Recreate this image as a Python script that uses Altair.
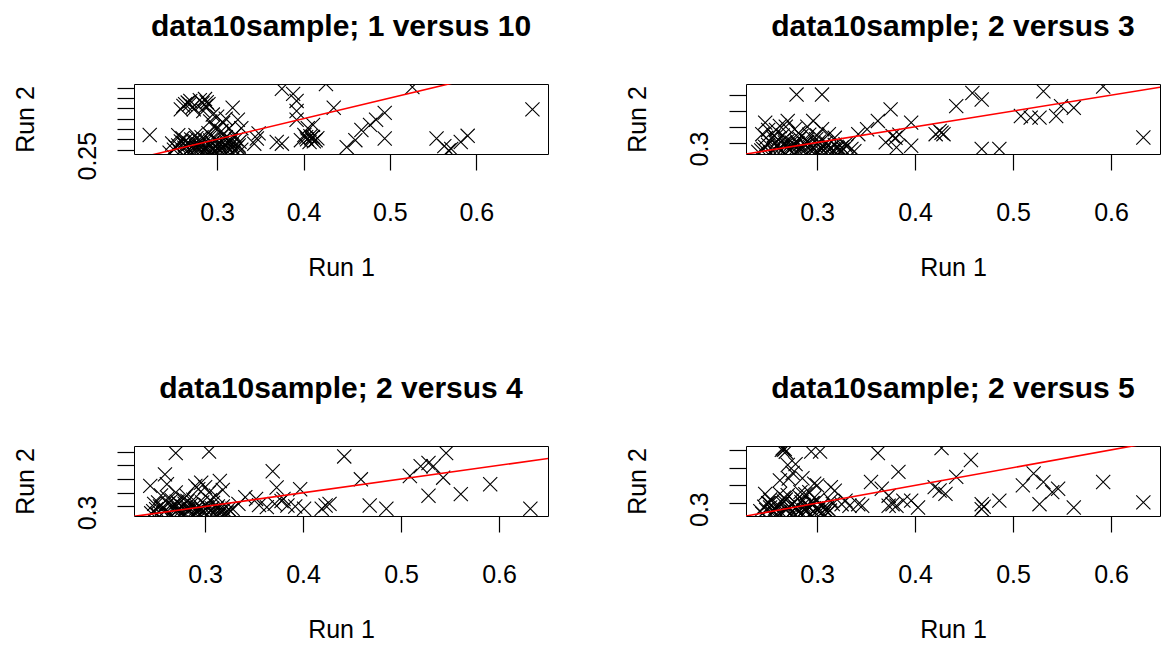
import altair as alt
import pandas as pd

# ---------------- data ----------------
titles = ["data10sample; 1 versus 10", "data10sample; 2 versus 3",
          "data10sample; 2 versus 4", "data10sample; 2 versus 5"]
x_ticks = [0.3, 0.4, 0.5, 0.6]
ref_line = [0.15, 0.75]  # identity line y = x

p1_x = [0.222, 0.665, 0.375, 0.388, 0.392, 0.426, 0.526, 0.435, 0.494, 0.484, 0.477, 0.467, 0.460, 0.450,
        0.494, 0.554, 0.563, 0.571, 0.582, 0.590, 0.568,
        0.392, 0.405, 0.401, 0.411, 0.407, 0.414, 0.397, 0.411, 0.392, 0.409, 0.404,
        0.408, 0.412, 0.403, 0.416,
        0.369, 0.375, 0.346, 0.348, 0.343,
        0.263, 0.269, 0.258, 0.273, 0.286, 0.290, 0.284, 0.318, 0.324, 0.307, 0.299, 0.314, 0.292, 0.328,
        0.320, 0.307, 0.266, 0.288,
        0.261, 0.268, 0.272, 0.280, 0.283, 0.287, 0.295, 0.300, 0.310, 0.305, 0.296]
p1_y = [0.321, 0.445, 0.545, 0.520, 0.486, 0.568, 0.553, 0.453, 0.428, 0.395, 0.370, 0.345, 0.296, 0.262,
        0.304, 0.304, 0.267, 0.254, 0.287, 0.317, 0.246,
        0.395, 0.354, 0.321, 0.312, 0.287, 0.296, 0.296, 0.370, 0.437, 0.305, 0.300,
        0.315, 0.290, 0.310, 0.305,
        0.287, 0.279, 0.304, 0.329, 0.279,
        0.470, 0.486, 0.445, 0.445, 0.495, 0.470, 0.437, 0.453, 0.395, 0.379, 0.354, 0.354, 0.387, 0.354,
        0.321, 0.321, 0.478, 0.480,
        0.462, 0.470, 0.458, 0.490, 0.475, 0.462, 0.420, 0.410, 0.400, 0.340, 0.360]
p1_dense_x = [0.245, 0.250, 0.255, 0.258, 0.262, 0.265, 0.268, 0.270, 0.272, 0.275, 0.278, 0.280, 0.282,
              0.285, 0.288, 0.290, 0.292, 0.295, 0.298, 0.300, 0.302, 0.305, 0.308, 0.310, 0.312, 0.315,
              0.318, 0.320, 0.322, 0.325, 0.328, 0.260, 0.275, 0.290, 0.255, 0.285, 0.270, 0.296, 0.310,
              0.248, 0.252, 0.257, 0.261, 0.264, 0.267, 0.271, 0.274, 0.277, 0.279, 0.283, 0.286, 0.289,
              0.291, 0.294, 0.297, 0.299, 0.303, 0.306, 0.309, 0.313, 0.316, 0.319, 0.323, 0.326, 0.263,
              0.281, 0.301, 0.317, 0.276, 0.293]
p1_dense_y = [0.235, 0.250, 0.270, 0.290, 0.260, 0.240, 0.280, 0.300, 0.255, 0.270, 0.245, 0.290, 0.310,
              0.260, 0.235, 0.275, 0.295, 0.250, 0.265, 0.240, 0.285, 0.255, 0.300, 0.270, 0.240, 0.285,
              0.260, 0.245, 0.300, 0.270, 0.250, 0.305, 0.320, 0.330, 0.320, 0.245, 0.262, 0.232, 0.310,
              0.280, 0.262, 0.238, 0.283, 0.295, 0.250, 0.236, 0.292, 0.258, 0.275, 0.240, 0.300, 0.252,
              0.238, 0.283, 0.246, 0.300, 0.268, 0.238, 0.278, 0.254, 0.296, 0.233, 0.262, 0.288, 0.272,
              0.265, 0.258, 0.274, 0.306, 0.316]

p2_x = [0.279, 0.305, 0.4585, 0.468, 0.442, 0.531, 0.592, 0.375, 0.362, 0.396, 0.396, 0.377, 0.370, 0.381,
        0.342, 0.351, 0.329, 0.325, 0.425, 0.429, 0.421, 0.427, 0.468, 0.486, 0.508, 0.518, 0.527, 0.544,
        0.549, 0.562, 0.633, 0.380, 0.384,
        0.247, 0.270, 0.296, 0.244, 0.262, 0.277, 0.305, 0.312, 0.255, 0.284, 0.299, 0.268, 0.290, 0.250,
        0.258, 0.281, 0.292, 0.265, 0.318, 0.300]
p2_y = [0.604, 0.604, 0.614, 0.573, 0.531, 0.625, 0.655, 0.510, 0.437, 0.426, 0.280, 0.342, 0.301, 0.269,
        0.353, 0.384, 0.290, 0.269, 0.374, 0.353, 0.353, 0.362, 0.259, 0.259, 0.468, 0.458, 0.458, 0.468,
        0.531, 0.520, 0.332, 0.330, 0.350,
        0.426, 0.437, 0.437, 0.353, 0.405, 0.384, 0.384, 0.353, 0.332, 0.342, 0.321, 0.400, 0.400, 0.380,
        0.380, 0.360, 0.350, 0.345, 0.330, 0.345]
p2_dense_x = [0.240, 0.245, 0.250, 0.255, 0.258, 0.262, 0.265, 0.268, 0.270, 0.272, 0.275, 0.278, 0.280,
              0.283, 0.286, 0.288, 0.290, 0.293, 0.296, 0.298, 0.300, 0.303, 0.306, 0.309, 0.312, 0.315,
              0.318, 0.321, 0.325, 0.330, 0.335, 0.338, 0.260, 0.282, 0.248, 0.274,
              0.243, 0.247, 0.252, 0.256, 0.259, 0.263, 0.267, 0.271, 0.274, 0.277, 0.281, 0.284, 0.287,
              0.291, 0.294, 0.297, 0.301, 0.304, 0.307, 0.311, 0.314, 0.317, 0.320, 0.323, 0.327, 0.266,
              0.279, 0.289, 0.302, 0.256]
p2_dense_y = [0.240, 0.260, 0.285, 0.245, 0.300, 0.265, 0.240, 0.285, 0.310, 0.255, 0.270, 0.240, 0.295,
              0.260, 0.245, 0.280, 0.305, 0.255, 0.270, 0.240, 0.290, 0.250, 0.275, 0.300, 0.260, 0.240,
              0.285, 0.265, 0.250, 0.275, 0.260, 0.245, 0.320, 0.325, 0.330, 0.300,
              0.250, 0.272, 0.238, 0.262, 0.280, 0.247, 0.300, 0.262, 0.238, 0.288, 0.250, 0.270, 0.292,
              0.240, 0.282, 0.258, 0.236, 0.266, 0.250, 0.282, 0.262, 0.250, 0.272, 0.240, 0.258, 0.320,
              0.310, 0.318, 0.305, 0.345]

p3_x = [0.270, 0.304, 0.442, 0.369, 0.373, 0.397, 0.380, 0.371, 0.384, 0.363, 0.401, 0.423, 0.427, 0.419,
        0.459, 0.468, 0.485, 0.509, 0.520, 0.528, 0.533, 0.546, 0.543, 0.528, 0.561, 0.591, 0.632,
        0.341, 0.352, 0.334, 0.328, 0.378, 0.392, 0.355,
        0.244, 0.259, 0.261, 0.296, 0.315, 0.293, 0.311, 0.270, 0.281, 0.304, 0.248, 0.290, 0.300, 0.255,
        0.318]
p3_y = [0.689, 0.700, 0.665, 0.557, 0.438, 0.426, 0.355, 0.319, 0.307, 0.295, 0.283, 0.307, 0.319, 0.283,
        0.498, 0.307, 0.283, 0.522, 0.593, 0.617, 0.593, 0.689, 0.510, 0.378, 0.390, 0.462, 0.283,
        0.367, 0.355, 0.319, 0.283, 0.340, 0.300, 0.310,
        0.450, 0.534, 0.462, 0.474, 0.486, 0.426, 0.378, 0.402, 0.378, 0.402, 0.319, 0.450, 0.440, 0.380,
        0.420]
p3_dense_x = [0.245, 0.250, 0.254, 0.258, 0.262, 0.265, 0.268, 0.271, 0.274, 0.277, 0.280, 0.283, 0.286,
              0.289, 0.292, 0.295, 0.298, 0.301, 0.304, 0.307, 0.310, 0.313, 0.316, 0.320, 0.324, 0.266,
              0.282, 0.297, 0.252, 0.276, 0.291, 0.308,
              0.247, 0.251, 0.256, 0.260, 0.263, 0.267, 0.270, 0.273, 0.276, 0.279, 0.283, 0.286, 0.289,
              0.292, 0.296, 0.299, 0.302, 0.306, 0.309, 0.312, 0.315, 0.319, 0.322, 0.326, 0.262, 0.278,
              0.288, 0.305, 0.318, 0.272]
p3_dense_y = [0.250, 0.280, 0.300, 0.260, 0.320, 0.245, 0.290, 0.335, 0.265, 0.300, 0.245, 0.280, 0.315,
              0.255, 0.290, 0.240, 0.270, 0.310, 0.255, 0.285, 0.240, 0.300, 0.265, 0.250, 0.280, 0.345,
              0.340, 0.330, 0.330, 0.255, 0.260, 0.325,
              0.265, 0.245, 0.290, 0.275, 0.245, 0.305, 0.260, 0.285, 0.245, 0.320, 0.270, 0.250, 0.300,
              0.265, 0.285, 0.250, 0.295, 0.270, 0.255, 0.285, 0.245, 0.275, 0.255, 0.265, 0.360, 0.355,
              0.350, 0.345, 0.300, 0.330]

p4_x = [0.266, 0.268, 0.265, 0.264, 0.267, 0.294, 0.303, 0.362, 0.427, 0.457, 0.442, 0.420, 0.425, 0.431,
        0.383, 0.355, 0.366, 0.373, 0.377, 0.373, 0.381, 0.388, 0.396, 0.403, 0.468, 0.468, 0.470, 0.486,
        0.510, 0.521, 0.531, 0.546, 0.540, 0.527, 0.562, 0.592, 0.633,
        0.314, 0.314, 0.325, 0.333, 0.342, 0.346, 0.329, 0.318,
        0.262, 0.271, 0.270, 0.247, 0.262, 0.283, 0.292, 0.275, 0.278, 0.285, 0.300, 0.297]
p4_y = [0.600, 0.590, 0.610, 0.600, 0.605, 0.591, 0.591, 0.582, 0.610, 0.543, 0.448, 0.390, 0.371, 0.352,
        0.476, 0.419, 0.381, 0.342, 0.294, 0.285, 0.285, 0.314, 0.314, 0.275, 0.294, 0.266, 0.280, 0.314,
        0.400, 0.467, 0.419, 0.381, 0.362, 0.294, 0.275, 0.419, 0.304,
        0.314, 0.390, 0.294, 0.285, 0.294, 0.285, 0.314, 0.370,
        0.428, 0.438, 0.515, 0.352, 0.352, 0.362, 0.362, 0.470, 0.520, 0.440, 0.400, 0.410]
p4_dense_x = [0.242, 0.246, 0.250, 0.254, 0.257, 0.260, 0.263, 0.266, 0.269, 0.272, 0.275, 0.278, 0.281,
              0.284, 0.287, 0.290, 0.293, 0.296, 0.299, 0.302, 0.305, 0.308, 0.311, 0.252, 0.268, 0.285,
              0.300, 0.258, 0.278, 0.293,
              0.244, 0.248, 0.252, 0.256, 0.259, 0.262, 0.265, 0.268, 0.271, 0.274, 0.277, 0.280, 0.283,
              0.286, 0.289, 0.292, 0.295, 0.298, 0.301, 0.304, 0.307, 0.310, 0.313, 0.316, 0.251, 0.266,
              0.282, 0.297, 0.270, 0.288]
p4_dense_y = [0.255, 0.280, 0.300, 0.245, 0.270, 0.290, 0.250, 0.310, 0.265, 0.240, 0.295, 0.275, 0.250,
              0.305, 0.260, 0.285, 0.240, 0.300, 0.270, 0.250, 0.290, 0.265, 0.245, 0.320, 0.320, 0.320,
              0.315, 0.235, 0.235, 0.238,
              0.240, 0.262, 0.275, 0.252, 0.285, 0.240, 0.298, 0.262, 0.280, 0.250, 0.305, 0.268, 0.240,
              0.290, 0.255, 0.275, 0.300, 0.245, 0.262, 0.285, 0.240, 0.272, 0.258, 0.295, 0.300, 0.330,
              0.335, 0.330, 0.345, 0.350]

panels = [
    (p1_x + p1_dense_x, p1_y + p1_dense_y, [0.2038, 0.683], [0.229, 0.568],
     [0.25, 0.30, 0.35, 0.40, 0.45, 0.50, 0.55], "0.25"),
    (p2_x + p2_dense_x, p2_y + p2_dense_y, [0.2274, 0.650], [0.2274, 0.671], [0.3, 0.4, 0.5, 0.6], "0.3"),
    (p3_x + p3_dense_x, p3_y + p3_dense_y, [0.2274, 0.650], [0.2305, 0.741],
     [0.3, 0.4, 0.5, 0.6, 0.7], "0.3"),
    (p4_x + p4_dense_x, p4_y + p4_dense_y, [0.2274, 0.650], [0.2274, 0.622], [0.3, 0.4, 0.5, 0.6], "0.3"),
]

W, H = 414, 70
FONT = "Liberation Sans"
X_SHAPE = "M-1,-1L1,1M-1,1L1,-1"


def make_panel(title, xs, ys, xdom, ydom, yticks, ylab):
    df = pd.DataFrame({"x": xs, "y": ys})
    ldf = pd.DataFrame({"x": ref_line, "y": ref_line})
    xenc = alt.X("x:Q", title="Run 1",
                 scale=alt.Scale(domain=xdom, nice=False, zero=False),
                 axis=alt.Axis(values=x_ticks, tickCount=len(x_ticks), format=".1f", tickSize=16,
                               labelPadding=30, titleX=W / 2, titleY=113, titleAlign="center",
                               titleBaseline="middle", labelFlush=False, labelOverlap=False))
    yenc = alt.Y("y:Q", title="Run 2",
                 scale=alt.Scale(domain=ydom, nice=False, zero=False),
                 axis=alt.Axis(values=yticks, tickCount=len(yticks), tickSize=17, labelPadding=17,
                               labelExpr=f"abs(datum.value - {float(ylab)}) < 1e-6 ? '{ylab}' : ''",
                               labelAngle=270, labelAlign="center", labelBaseline="bottom",
                               labelOffset=6,
                               titleAngle=270, titleX=-109, titleY=H / 2, titleAlign="center",
                               titleBaseline="middle", labelFlush=False, labelOverlap=False))
    pts = alt.Chart(df).mark_point(shape=X_SHAPE, size=200, filled=False, color="black",
                                   strokeWidth=1.1, opacity=1, clip=True).encode(x=xenc, y=yenc)
    line = alt.Chart(ldf).mark_line(color="#ff0000", strokeWidth=1.6, clip=True).encode(
        x="x:Q", y="y:Q")
    return alt.layer(pts, line).properties(
        width=W, height=H,
        title=alt.TitleParams(title, fontSize=30, fontWeight="bold", font=FONT, anchor="middle",
                              offset=42, color="black"))


charts = [make_panel(t, *p) for t, p in zip(titles, panels)]

chart = alt.concat(*charts, columns=2, spacing={"row": 292, "column": 198}, bounds="flush").properties(
    padding={"left": 12, "top": 11, "right": 0, "bottom": 0},
    background="white",
).configure_view(stroke="black", strokeWidth=1).configure_axis(
    domain=False, grid=False, tickColor="black", tickWidth=1.2,
    labelColor="black", labelFont=FONT, labelFontSize=25,
    titleColor="black", titleFont=FONT, titleFontSize=25, titleFontWeight="normal",
)

chart.save("out.html", embed_options={"renderer": "svg", "actions": False})
